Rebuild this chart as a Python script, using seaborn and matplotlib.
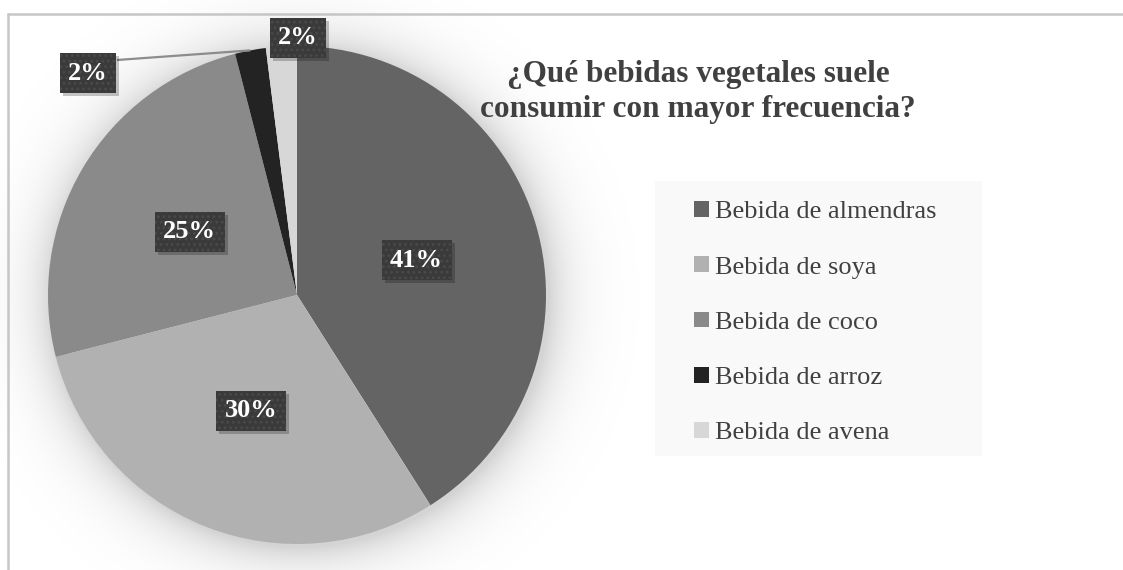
import numpy as np
import matplotlib
matplotlib.use("Agg")
import matplotlib.pyplot as plt
from matplotlib.patches import Rectangle
import seaborn as sns

# Survey answers: which plant-based drinks are consumed most often
categories = ["Bebida de almendras", "Bebida de soya", "Bebida de coco",
              "Bebida de arroz", "Bebida de avena"]
shares = [41, 30, 25, 2, 2]
slice_colors = ["#646464", "#b1b1b1", "#8a8a8a", "#232323", "#d7d7d7"]
title = "¿Qué bebidas vegetales suele\nconsumir con mayor frecuencia?"

sns.set_theme(style="white")
plt.rcParams["font.family"] = ["Liberation Serif", "DejaVu Serif"]
plt.rcParams["hatch.linewidth"] = 1.2

W, H = 1123, 570
fig = plt.figure(figsize=(W / 100, H / 100), dpi=100)
fig.patch.set_facecolor("white")
ax = fig.add_axes([0, 0, 1, 1])

cx, cy, R = 297, 275, 249

# soft halo around the pie
yy, xx = np.mgrid[0:H, 0:W]
d = np.hypot(xx + 0.5 - (cx + 3), yy + 0.5 - (cy - 3))
alpha = np.where(d > R - 10, 0.17 * np.exp(-np.clip(d - R, 0, None) / 24.0), 0.0)
halo = np.zeros((H, W, 4))
halo[..., 3] = alpha
ax.imshow(halo, extent=(0, W, 0, H), origin="lower", zorder=0, interpolation="bilinear")

wedges, _, autotexts = ax.pie(
    shares, colors=slice_colors, startangle=90, counterclock=False,
    center=(cx, cy), radius=R, autopct="%d%%", pctdistance=0.5,
    wedgeprops=dict(linewidth=0, antialiased=True), frame=True,
)
ax.set_xlim(0, W)
ax.set_ylim(0, H)
ax.set_aspect("equal")
ax.axis("off")

# the two thin slices get their labels outside the pie
outside = {3: (88, 570 - 73), 4: (298, 570 - 38)}
for i, t in enumerate(autotexts):
    if i in outside:
        t.set_position(outside[i])
    t.set_color("white")
    t.set_fontsize(19)
    t.set_fontweight("bold")
    t.set_ha("center")
    t.set_va("center")
    t.set_bbox(dict(boxstyle="square,pad=0.32", fc="#3a3a3a", ec="#4a4a4a",
                    lw=0, hatch="..."))
    t.set_zorder(5)

# drop shadows behind the label boxes
fig.canvas.draw()
inv = ax.transData.inverted()
for t in autotexts:
    bb = t.get_bbox_patch().get_window_extent()
    (x0, y0), (x1, y1) = inv.transform([[bb.x0, bb.y0], [bb.x1, bb.y1]])
    ax.add_patch(Rectangle((x0 + 3, y0 - 3), x1 - x0, y1 - y0,
                           fc="black", ec="none", alpha=0.22, zorder=4.5))

# leader line from the rice label to its slice
w = wedges[3]
mid = np.deg2rad((w.theta1 + w.theta2) / 2)
ax.plot([117, cx + R * np.cos(mid)], [570 - 60, cy + R * np.sin(mid)],
        color="#8c8c8c", lw=1.6, zorder=4, solid_capstyle="butt")

ax.text(698, 570 - 92, title, ha="center", va="center", fontsize=22.5,
        fontweight="bold", color="#404040", linespacing=1.3, zorder=5)

# legend panel
ax.add_patch(Rectangle((655, 570 - 456), 327, 275, fc="#f9f9f9", ec="none", zorder=1))
leg = ax.legend(wedges, categories, loc="upper left",
                bbox_to_anchor=(694, 570 - 201), bbox_transform=ax.transData,
                frameon=False, fontsize=19, handlelength=0.55, handleheight=0.55,
                handletextpad=0.25, labelspacing=1.25, borderpad=0, borderaxespad=0)
for txt in leg.get_texts():
    txt.set_color("#404040")

# outer frame (top and left edges)
fig.add_artist(plt.Line2D([8 / W, 1], [1 - 14 / H, 1 - 14 / H], color="#c6c6c6", lw=1.8))
fig.add_artist(plt.Line2D([8 / W, 8 / W], [0, 1 - 14 / H], color="#c6c6c6", lw=1.8))

fig.savefig("out.png", dpi=100)
